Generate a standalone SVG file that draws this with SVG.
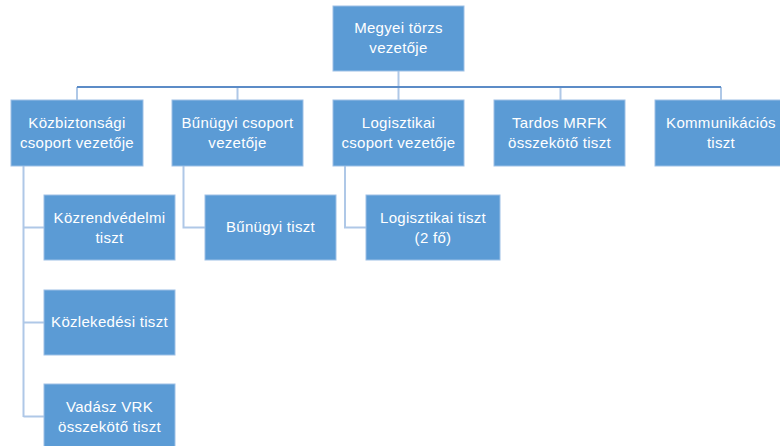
<svg xmlns="http://www.w3.org/2000/svg" width="780" height="446" viewBox="0 0 780 446">
<style>
.box{fill:#5B9BD5;stroke:#9DC0E6;stroke-width:1}
.t{font-family:"Liberation Sans",Arial,sans-serif;font-size:15px;letter-spacing:0.3px;fill:#FFFFFF;text-anchor:middle}
.c{fill:none;stroke:#AFC8E7;stroke-width:2}
.h{fill:none;stroke:#5C8CC7;stroke-width:2}
</style>
<rect width="780" height="446" fill="#FFFFFF"/>
<g id="connectors">
<path class="c" d="M398.5 71V100M77 87V100M237.5 87V100M560.5 87V100M721 87V100"/>
<path class="h" d="M77 87H721"/>
<path class="c" d="M23.5 166V417M23.5 227.5H44M23.5 322.5H44M23.5 416.5H44"/>
<path class="c" d="M183.5 166V227.5H205"/>
<path class="c" d="M345 166V227.5H366"/>
</g>
<g id="n-megyei"><rect class="box" x="333" y="6" width="131" height="65"/><text class="t" x="398.5" y="33">Megyei törzs</text><text class="t" x="398.5" y="53">vezetője</text></g>
<g id="n-kozbiz"><rect class="box" x="11" y="100" width="132" height="66"/><text class="t" x="77" y="128">Közbiztonsági</text><text class="t" x="77" y="148">csoport vezetője</text></g>
<g id="n-bunugyi-v"><rect class="box" x="172" y="100" width="131" height="66"/><text class="t" x="237.5" y="128">Bűnügyi csoport</text><text class="t" x="237.5" y="148">vezetője</text></g>
<g id="n-logisz-v"><rect class="box" x="333" y="100" width="131" height="66"/><text class="t" x="398.5" y="128">Logisztikai</text><text class="t" x="398.5" y="148">csoport vezetője</text></g>
<g id="n-tardos"><rect class="box" x="494" y="100" width="131" height="66"/><text class="t" x="559.5" y="128">Tardos MRFK</text><text class="t" x="559.5" y="148">összekötő tiszt</text></g>
<g id="n-komm"><rect class="box" x="655" y="100" width="132" height="66"/><text class="t" x="721" y="128">Kommunikációs</text><text class="t" x="721" y="148">tiszt</text></g>
<g id="n-kozrend"><rect class="box" x="44" y="195" width="131" height="65"/><text class="t" x="109.5" y="222.5">Közrendvédelmi</text><text class="t" x="109.5" y="242.5">tiszt</text></g>
<g id="n-kozlek"><rect class="box" x="44" y="290" width="131" height="65"/><text class="t" x="109.5" y="327">Közlekedési tiszt</text></g>
<g id="n-vadasz"><rect class="box" x="44" y="384" width="131" height="65"/><text class="t" x="109.5" y="411.5">Vadász VRK</text><text class="t" x="109.5" y="431.5">összekötő tiszt</text></g>
<g id="n-bunugyi-t"><rect class="box" x="205" y="195" width="131" height="65"/><text class="t" x="270.5" y="232">Bűnügyi tiszt</text></g>
<g id="n-logisz-t"><rect class="box" x="366" y="195" width="134" height="65"/><text class="t" x="433" y="222.5">Logisztikai tiszt</text><text class="t" x="433" y="242.5">(2 fő)</text></g>
</svg>
